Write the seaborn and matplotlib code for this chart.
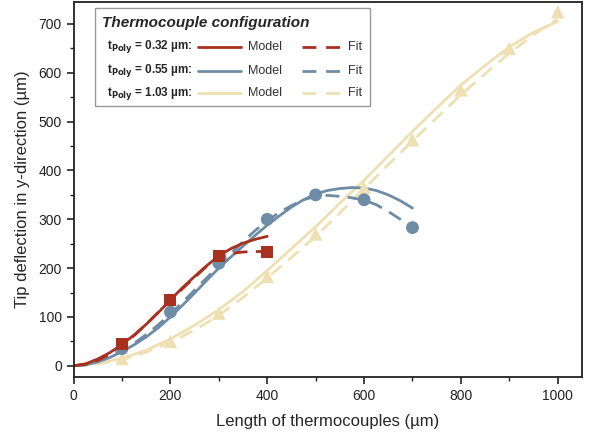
import numpy as np
import pandas as pd
import matplotlib
matplotlib.use("Agg")
import matplotlib.pyplot as plt
import seaborn as sns
from matplotlib.lines import Line2D
from matplotlib.patches import Rectangle
from matplotlib.ticker import MultipleLocator

# ---- data ----
groups = ["0.32", "0.55", "1.03"]
colors = {"0.32": "#A9301F", "0.55": "#6E8CA6", "1.03": "#EFE0B3"}
markers = {"0.32": "s", "0.55": "o", "1.03": "^"}
msize = {"0.32": 75, "0.55": 85, "1.03": 95}

# measured points
meas_x_032 = [100, 200, 300, 400]
meas_y_032 = [45, 135, 225, 233]
meas_x_055 = [100, 200, 300, 400, 500, 600, 700]
meas_y_055 = [35, 110, 210, 300, 350, 340, 283]
meas_x_103 = [100, 200, 300, 400, 500, 600, 700, 800, 900, 1000]
meas_y_103 = [15, 50, 108, 183, 270, 365, 463, 565, 650, 725]

# model curves (read every 25 / 50 µm)
model_x_032 = [0, 25, 50, 75, 100, 125, 150, 175, 200, 225, 250, 275, 300, 325, 350, 375, 400]
model_y_032 = [0, 4, 14, 27, 44, 63, 85, 109, 135, 160, 183, 205, 225, 240, 251, 259, 265]
model_x_055 = [0, 25, 50, 75, 100, 125, 150, 175, 200, 225, 250, 275, 300, 325, 350,
               375, 400, 425, 450, 475, 500, 525, 550, 575, 600, 625, 650, 675, 700]
model_y_055 = [0, 2, 8, 17, 29, 43, 59, 78, 100, 124, 149, 175, 200, 223, 245,
               267, 288, 307, 325, 340, 352, 359, 363, 365, 364, 359, 350, 338, 323]
model_x_103 = [0, 50, 100, 150, 200, 250, 300, 350, 400, 450, 500, 550, 600, 650, 700,
               750, 800, 850, 900, 950, 1000]
model_y_103 = [0, 5, 15, 32, 55, 83, 115, 152, 195, 240, 285, 333, 380, 430, 480,
               528, 575, 615, 653, 683, 705]

# fit curves (read every 25 / 50 µm)
fit_x_032 = [0, 25, 50, 75, 100, 125, 150, 175, 200, 225, 250, 275, 300, 325, 350, 375, 400]
fit_y_032 = [0, 3, 11, 24, 41, 62, 85, 110, 134, 158, 181, 204, 222, 230, 233, 234, 234]
fit_x_055 = [0, 25, 50, 75, 100, 125, 150, 175, 200, 225, 250, 275, 300, 325, 350,
             375, 400, 425, 450, 475, 500, 525, 550, 575, 600, 625, 650, 675, 700]
fit_y_055 = [0, 2, 9, 19, 31, 46, 64, 84, 106, 130, 155, 180, 205, 230, 254,
             277, 297, 314, 328, 340, 347, 349, 347, 344, 339, 330, 316, 300, 283]
fit_x_103 = [0, 50, 100, 150, 200, 250, 300, 350, 400, 450, 500, 550, 600, 650, 700,
             750, 800, 850, 900, 950, 1000]
fit_y_103 = [0, 4, 12, 28, 48, 73, 103, 140, 180, 222, 265, 313, 362, 412, 460,
             508, 555, 598, 640, 678, 710]

xticks = [0, 200, 400, 600, 800, 1000]
yticks = [0, 100, 200, 300, 400, 500, 600, 700]

model = pd.concat([
    pd.DataFrame({"x": model_x_032, "y": model_y_032, "g": "0.32"}),
    pd.DataFrame({"x": model_x_055, "y": model_y_055, "g": "0.55"}),
    pd.DataFrame({"x": model_x_103, "y": model_y_103, "g": "1.03"}),
])
fit = pd.concat([
    pd.DataFrame({"x": fit_x_032, "y": fit_y_032, "g": "0.32"}),
    pd.DataFrame({"x": fit_x_055, "y": fit_y_055, "g": "0.55"}),
    pd.DataFrame({"x": fit_x_103, "y": fit_y_103, "g": "1.03"}),
])
meas = pd.concat([
    pd.DataFrame({"x": meas_x_032, "y": meas_y_032, "g": "0.32"}),
    pd.DataFrame({"x": meas_x_055, "y": meas_y_055, "g": "0.55"}),
    pd.DataFrame({"x": meas_x_103, "y": meas_y_103, "g": "1.03"}),
])

sns.set_style("ticks")
plt.rcParams["font.family"] = ["Liberation Sans", "DejaVu Sans"]

fig = plt.figure(figsize=(5.95, 4.34), dpi=100)
ax = fig.add_axes([0.1237, 0.1313, 0.8543, 0.8641])

# draw in reverse order so red is on top
for g in ["1.03", "0.55", "0.32"]:
    sub_m = model[model.g == g]
    sub_f = fit[fit.g == g]
    sub_p = meas[meas.g == g]
    sns.lineplot(data=sub_m, x="x", y="y", ax=ax, color=colors[g], lw=2.0,
                 sort=False, estimator=None, legend=False)
    sns.lineplot(data=sub_f, x="x", y="y", ax=ax, color=colors[g], lw=2.0,
                 sort=False, estimator=None, legend=False, dashes=False,
                 linestyle=(0, (5, 3)))
    sns.scatterplot(data=sub_p, x="x", y="y", ax=ax, color=colors[g],
                    marker=markers[g], s=msize[g], edgecolor="none", legend=False,
                    zorder=5)

ax.set_xlim(0, 1050)
ax.set_ylim(-23, 745)
ax.set_xticks(xticks)
ax.set_yticks(yticks)
ax.xaxis.set_minor_locator(MultipleLocator(100))
ax.yaxis.set_minor_locator(MultipleLocator(50))
ax.tick_params(axis="both", which="major", direction="out", length=5, width=1.2,
               labelsize=10, colors="#222222")
ax.tick_params(axis="both", which="minor", direction="out", length=3, width=1.0,
               colors="#222222")
for s in ax.spines.values():
    s.set_visible(True)
    s.set_linewidth(1.3)
    s.set_color("#222222")

ax.set_xlabel("Length of thermocouples (µm)", fontsize=12, labelpad=8)
ax.set_ylabel("Tip deflection in y-direction (µm)", fontsize=12, labelpad=6)

# ---- custom legend ----
ax.add_patch(Rectangle((0.042, 0.723), 0.541, 0.261, transform=ax.transAxes,
                       facecolor="white", edgecolor="#999999", lw=1.0, zorder=6))
ax.text(0.055, 0.944, "Thermocouple configuration", transform=ax.transAxes,
        fontsize=11, fontweight="bold", fontstyle="italic", va="center",
        ha="left", zorder=7)
rows_y = [0.881, 0.817, 0.757]
for g, yy in zip(groups, rows_y):
    ax.text(0.065, yy, r"t$_{\mathbf{Poly}}$ = " + g + " µm:",
            transform=ax.transAxes, fontsize=8.5, fontweight="bold",
            va="center", ha="left", zorder=7)
    ax.add_line(Line2D([0.245, 0.330], [yy, yy], transform=ax.transAxes,
                       color=colors[g], lw=2.0, zorder=7))
    ax.text(0.343, yy, "Model", transform=ax.transAxes, fontsize=9,
            va="center", ha="left", zorder=7, color="#333333")
    ax.add_line(Line2D([0.449, 0.530], [yy, yy], transform=ax.transAxes,
                       color=colors[g], lw=2.0, linestyle=(0, (5, 3.5)),
                       zorder=7))
    ax.text(0.540, yy, "Fit", transform=ax.transAxes, fontsize=9,
            va="center", ha="left", zorder=7, color="#333333")

fig.savefig("out.png", dpi=100)
